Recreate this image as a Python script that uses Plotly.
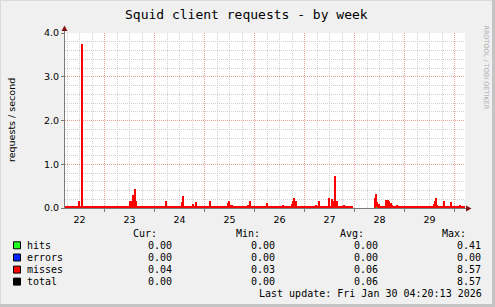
import pandas as pd
import plotly.graph_objects as go

# ---------------- data (30-minute bins from 2026-01-22 05:00) ----------------
start = "2026-01-22 05:00"
end = "2026-01-30 05:00"

misses = (
    [0.05, 0.05, 0.05, 0.05, 0.05, 0.05, 0.05, 0.05, 0.05, 0.05, 0.05, 0.05, 0.05, 0.15, 0.05, 0.05, 3.74, 0.05, 0.05, 0.05, 0.05, 0.05, 0.05, 0.05]
    + [0.05, 0.05, 0.05, 0.05, 0.05, 0.05, 0.05, 0.05, 0.05, 0.05, 0.05, 0.05, 0.05, 0.05, 0.05, 0.05, 0.05, 0.05, 0.05, 0.05, 0.05, 0.05, 0.05, 0.05]
    + [0.05, 0.05, 0.05, 0.05, 0.05, 0.05, 0.05, 0.05, 0.05, 0.05, 0.05, 0.05, 0.05, 0.05, 0.16, 0.16, 0.05, 0.29, 0.29, 0.43, 0.16, 0.05, 0.05, 0.05]
    + [0.05, 0.05, 0.05, 0.05, 0.05, 0.05, 0.05, 0.05, 0.05, 0.05, 0.05, 0.05, 0.05, 0.05, 0.05, 0.05, 0.05, 0.05, 0.05, 0.05, 0.05, 0.05, 0.05, 0.05]
    + [0.15, 0.05, 0.05, 0.05, 0.05, 0.05, 0.05, 0.05, 0.05, 0.05, 0.05, 0.05, 0.05, 0.05, 0.05, 0.05, 0.13, 0.27, 0.05, 0.05, 0.05, 0.05, 0.05, 0.05]
    + [0.05, 0.05, 0.09, 0.05, 0.05, 0.13, 0.05, 0.05, 0.05, 0.05, 0.05, 0.05, 0.05, 0.05, 0.05, 0.05, 0.05, 0.05, 0.05, 0.15, 0.05, 0.05, 0.05, 0.05]
    + [0.05, 0.05, 0.05, 0.05, 0.05, 0.05, 0.05, 0.05, 0.05, 0.05, 0.05, 0.05, 0.12, 0.15, 0.08, 0.08, 0.08, 0.05, 0.05, 0.05, 0.05, 0.05, 0.05, 0.05]
    + [0.05, 0.05, 0.05, 0.05, 0.05, 0.05, 0.05, 0.08, 0.05, 0.14, 0.05, 0.05, 0.05, 0.05, 0.05, 0.05, 0.05, 0.05, 0.05, 0.05, 0.05, 0.05, 0.05, 0.05]
    + [0.05, 0.11, 0.05, 0.05, 0.05, 0.05, 0.05, 0.05, 0.05, 0.05, 0.05, 0.05, 0.05, 0.05, 0.05, 0.05, 0.05, 0.07, 0.05, 0.05, 0.05, 0.05, 0.05, 0.05]
    + [0.05, 0.10, 0.16, 0.24, 0.10, 0.16, 0.05, 0.05, 0.05, 0.05, 0.05, 0.05, 0.05, 0.05, 0.05, 0.05, 0.05, 0.05, 0.05, 0.05, 0.05, 0.05, 0.05, 0.05]
    + [0.08, 0.05, 0.05, 0.16, 0.05, 0.05, 0.05, 0.05, 0.05, 0.05, 0.05, 0.05, 0.05, 0.19, 0.05, 0.05, 0.21, 0.16, 0.05, 0.74, 0.05, 0.17, 0.05, 0.05]
    + [0.05, 0.05, 0.05, 0.08, 0.05, 0.05, 0.05, 0.05, 0.05, 0.05, 0.05, 0.05, None, None, None, None, None, None, None, None, None, None, None, None]
    + [None, None, None, None, None, None, None, None, None, 0.22, 0.29, 0.10, 0.08, 0.10, 0.05, 0.05, 0.05, 0.05, 0.05, 0.05, 0.19, 0.16, 0.19, 0.17]
    + [0.12, 0.07, 0.05, 0.05, 0.05, 0.05, 0.08, 0.05, 0.05, 0.05, 0.05, 0.05, 0.05, 0.05, 0.05, 0.05, 0.05, 0.05, 0.05, 0.05, 0.05, 0.05, 0.05, 0.05]
    + [0.05, 0.05, 0.05, 0.05, 0.05, 0.05, 0.05, 0.05, 0.05, 0.05, 0.05, 0.05, 0.05, 0.05, 0.05, 0.05, 0.05, 0.05, 0.09, 0.16, 0.14, 0.08, 0.05, 0.05]
    + [0.05, 0.05, 0.05, 0.16, 0.05, 0.05, 0.05, 0.05, 0.05, 0.05, 0.13, 0.05, 0.05, 0.05, 0.05, 0.05, 0.05, 0.05, 0.05, 0.08, 0.05, 0.05, 0.05, 0.05]
)

hits = (
    [0, 0, 0, 0, 0, 0, 0, 0, 0, 0, 0, 0, 0, 0, 0, 0, 0, 0, 0, 0, 0, 0, 0, 0]
    + [0, 0, 0, 0, 0, 0, 0, 0, 0, 0, 0, 0, 0, 0, 0, 0, 0, 0, 0, 0, 0, 0, 0, 0]
    + [0, 0, 0, 0, 0, 0, 0, 0, 0, 0, 0, 0, 0, 0, 0, 0, 0, 0, 0, 0, 0, 0, 0, 0]
    + [0, 0, 0, 0, 0, 0, 0, 0, 0, 0, 0, 0, 0, 0, 0, 0, 0, 0, 0, 0, 0, 0, 0, 0]
    + [0, 0, 0, 0, 0, 0, 0, 0, 0, 0, 0, 0, 0, 0, 0, 0, 0, 0, 0, 0, 0, 0, 0, 0]
    + [0, 0, 0, 0, 0, 0, 0, 0, 0, 0, 0, 0, 0, 0, 0, 0, 0, 0, 0, 0, 0, 0, 0, 0]
    + [0, 0, 0, 0, 0, 0, 0, 0, 0, 0, 0, 0, 0, 0.02, 0, 0, 0, 0, 0, 0, 0, 0, 0, 0]
    + [0, 0, 0, 0, 0, 0, 0, 0, 0, 0.02, 0, 0, 0, 0, 0, 0, 0, 0, 0, 0, 0, 0, 0, 0]
    + [0, 0, 0, 0, 0, 0, 0, 0, 0, 0, 0, 0, 0, 0, 0, 0, 0, 0, 0, 0, 0, 0, 0, 0]
    + [0, 0, 0, 0, 0, 0, 0, 0, 0, 0, 0, 0, 0, 0, 0, 0, 0, 0, 0, 0, 0, 0, 0, 0]
    + [0, 0, 0, 0, 0, 0, 0, 0, 0, 0, 0, 0, 0, 0.04, 0, 0, 0, 0, 0, 0, 0, 0, 0, 0]
    + [0, 0, 0, 0, 0, 0, 0, 0, 0, 0, 0, 0, None, None, None, None, None, None, None, None, None, None, None, None]
    + [None, None, None, None, None, None, None, None, None, 0, 0.03, 0.03, 0, 0, 0, 0, 0, 0, 0, 0, 0, 0, 0, 0]
    + [0, 0, 0, 0, 0, 0, 0, 0, 0, 0, 0, 0, 0, 0, 0, 0, 0, 0, 0, 0, 0, 0, 0, 0]
    + [0, 0, 0, 0, 0, 0, 0, 0, 0, 0, 0, 0, 0, 0, 0, 0, 0, 0, 0, 0, 0.08, 0, 0, 0]
    + [0, 0, 0, 0, 0, 0, 0, 0, 0, 0, 0, 0, 0, 0, 0, 0, 0, 0, 0, 0, 0, 0, 0, 0]
)

legend_names = ["hits", "errors", "misses", "total"]
legend_colors = ["#22ff22", "#0022ff", "#ff0000", "#000000"]
cur_vals = ["0.00", "0.00", "0.04", "0.00"]
min_vals = ["0.00", "0.00", "0.03", "0.00"]
avg_vals = ["0.00", "0.00", "0.06", "0.06"]
max_vals = ["0.41", "0.00", "8.57", "8.57"]
col_headers = ["Cur:", "Min:", "Avg:", "Max:"]

title = "Squid client requests - by week"
y_title = "requests / second"
watermark = "RRDTOOL / TOBI OETIKER"
last_update = "Last update: Fri Jan 30 04:20:13 2026"

# ---------------- styling ----------------
W_IMG, H_IMG = 495, 307
L, T, PW, PH = 65, 33, 400, 175
BACK = "#f0f0f0"
GRID = "#cfcfcf"
MGRID = "#f2a0a0"
AXIS = "#7a7a7a"
ARROW = "#7f1414"
MONO = "DejaVu Sans Mono"
SANS = "DejaVu Sans"


def fx(px):
    return (px - L) / PW


def fy(py):
    return (T + PH - py) / PH


times = pd.date_range(start, periods=len(misses), freq="30min") + pd.Timedelta(minutes=15)

fig = go.Figure()
fig.add_bar(x=times, y=hits, width=1800000, name="hits",
            marker=dict(color=legend_colors[0], line=dict(width=0)))
fig.add_bar(x=times, y=misses, width=1800000, name="misses",
            marker=dict(color=legend_colors[2], line=dict(width=0)))

fig.update_layout(
    width=W_IMG, height=H_IMG,
    margin=dict(l=L, r=W_IMG - L - PW, t=T, b=H_IMG - T - PH, autoexpand=False),
    paper_bgcolor=BACK, plot_bgcolor="#ffffff",
    barmode="stack", bargap=0, showlegend=False,
    font=dict(family=SANS, size=10, color="#000000"),
)

fig.update_xaxes(
    type="date", range=[start, end],
    tick0="2026-01-22", dtick=86400000, tickformat="%d", ticklabelmode="period",
    showgrid=True, gridcolor=MGRID, griddash="1px,1px", gridwidth=1,
    minor=dict(tick0="2026-01-22", dtick=21600000, showgrid=True, gridcolor=GRID,
               griddash="1px,1px", gridwidth=1),
    showline=True, linecolor=AXIS, linewidth=1,
    ticks="outside", ticklen=3, tickcolor=AXIS,
    tickfont=dict(family=SANS, size=9.5, color="#000000"),
    zeroline=False, fixedrange=True,
)
fig.update_yaxes(
    range=[0, 4], tick0=0, dtick=1, tickformat=".1f",
    showgrid=True, gridcolor=MGRID, griddash="1px,1px", gridwidth=1,
    minor=dict(dtick=0.2, showgrid=True, gridcolor=GRID, griddash="1px,1px", gridwidth=1),
    showline=True, linecolor=AXIS, linewidth=1,
    ticks="outside", ticklen=3, tickcolor=AXIS,
    tickfont=dict(family=SANS, size=9.5, color="#000000"),
    zeroline=False, fixedrange=True,
)

shapes = []
# image border (3D frame)
shapes.append(dict(type="line", xref="paper", yref="paper", x0=fx(0), x1=fx(W_IMG), y0=fy(0.5), y1=fy(0.5),
                   line=dict(color="#dadada", width=1)))
shapes.append(dict(type="line", xref="paper", yref="paper", x0=fx(0.5), x1=fx(0.5), y0=fy(0), y1=fy(H_IMG),
                   line=dict(color="#dadada", width=1)))
shapes.append(dict(type="line", xref="paper", yref="paper", x0=fx(W_IMG - 1.5), x1=fx(W_IMG - 1.5), y0=fy(0), y1=fy(H_IMG),
                   line=dict(color="#c4c4c4", width=3)))
shapes.append(dict(type="line", xref="paper", yref="paper", x0=fx(0), x1=fx(W_IMG), y0=fy(H_IMG - 1.5), y1=fy(H_IMG - 1.5),
                   line=dict(color="#c4c4c4", width=3)))
# axis extensions
shapes.append(dict(type="line", xref="paper", yref="paper", x0=fx(64.5), x1=fx(64.5), y0=fy(T), y1=fy(29),
                   line=dict(color=AXIS, width=1)))
shapes.append(dict(type="line", xref="paper", yref="paper", x0=fx(61), x1=fx(467), y0=fy(T + PH + 0.5), y1=fy(T + PH + 0.5),
                   line=dict(color=AXIS, width=1)))
# arrow heads
shapes.append(dict(type="path", xref="paper", yref="paper",
                   path=f"M {fx(61.5)},{fy(31)} L {fx(67.5)},{fy(31)} L {fx(64.5)},{fy(25.5)} Z",
                   fillcolor=ARROW, line=dict(width=0)))
shapes.append(dict(type="path", xref="paper", yref="paper",
                   path=f"M {fx(466)},{fy(205.5)} L {fx(466)},{fy(211.5)} L {fx(471.5)},{fy(208.5)} Z",
                   fillcolor=ARROW, line=dict(width=0)))

annotations = []


def txt(text, px, py, xanchor="left", size=10, family=MONO, color="#000000", angle=0):
    annotations.append(dict(text=text, x=fx(px), y=fy(py), xref="paper", yref="paper",
                            xanchor=xanchor, yanchor="middle", showarrow=False,
                            textangle=angle, borderpad=0, borderwidth=0,
                            font=dict(family=family, size=size, color=color)))


txt(title, 246.5, 14, xanchor="center", size=13)
txt(y_title, 11.5, T + PH / 2, xanchor="center", size=9.5, family=SANS, angle=-90)
txt(watermark, 486, 67.5, xanchor="center", size=6.5, family=SANS, color="#adadad", angle=90)

header_right = [157, 260, 363.5, 466.5]
value_right = [171.5, 274.5, 377.5, 480.5]
for hdr, xr in zip(col_headers, header_right):
    txt(hdr, xr, 233.7, xanchor="right")

row_y = [245.3, 257.5, 269.6, 281.6]
columns = [cur_vals, min_vals, avg_vals, max_vals]
for i, name in enumerate(legend_names):
    y = row_y[i]
    shapes.append(dict(type="rect", xref="paper", yref="paper",
                       x0=fx(13.5), x1=fx(20.5), y0=fy(y - 3.5), y1=fy(y + 3.5),
                       fillcolor=legend_colors[i], line=dict(color="#000000", width=1)))
    txt(name, 26.5, y)
    for col, xr in zip(columns, value_right):
        txt(col[i], xr, y, xanchor="right")

txt(last_update, 481.5, 293.3, xanchor="right")

fig.update_layout(shapes=shapes, annotations=annotations)
fig.write_html("out.html")
